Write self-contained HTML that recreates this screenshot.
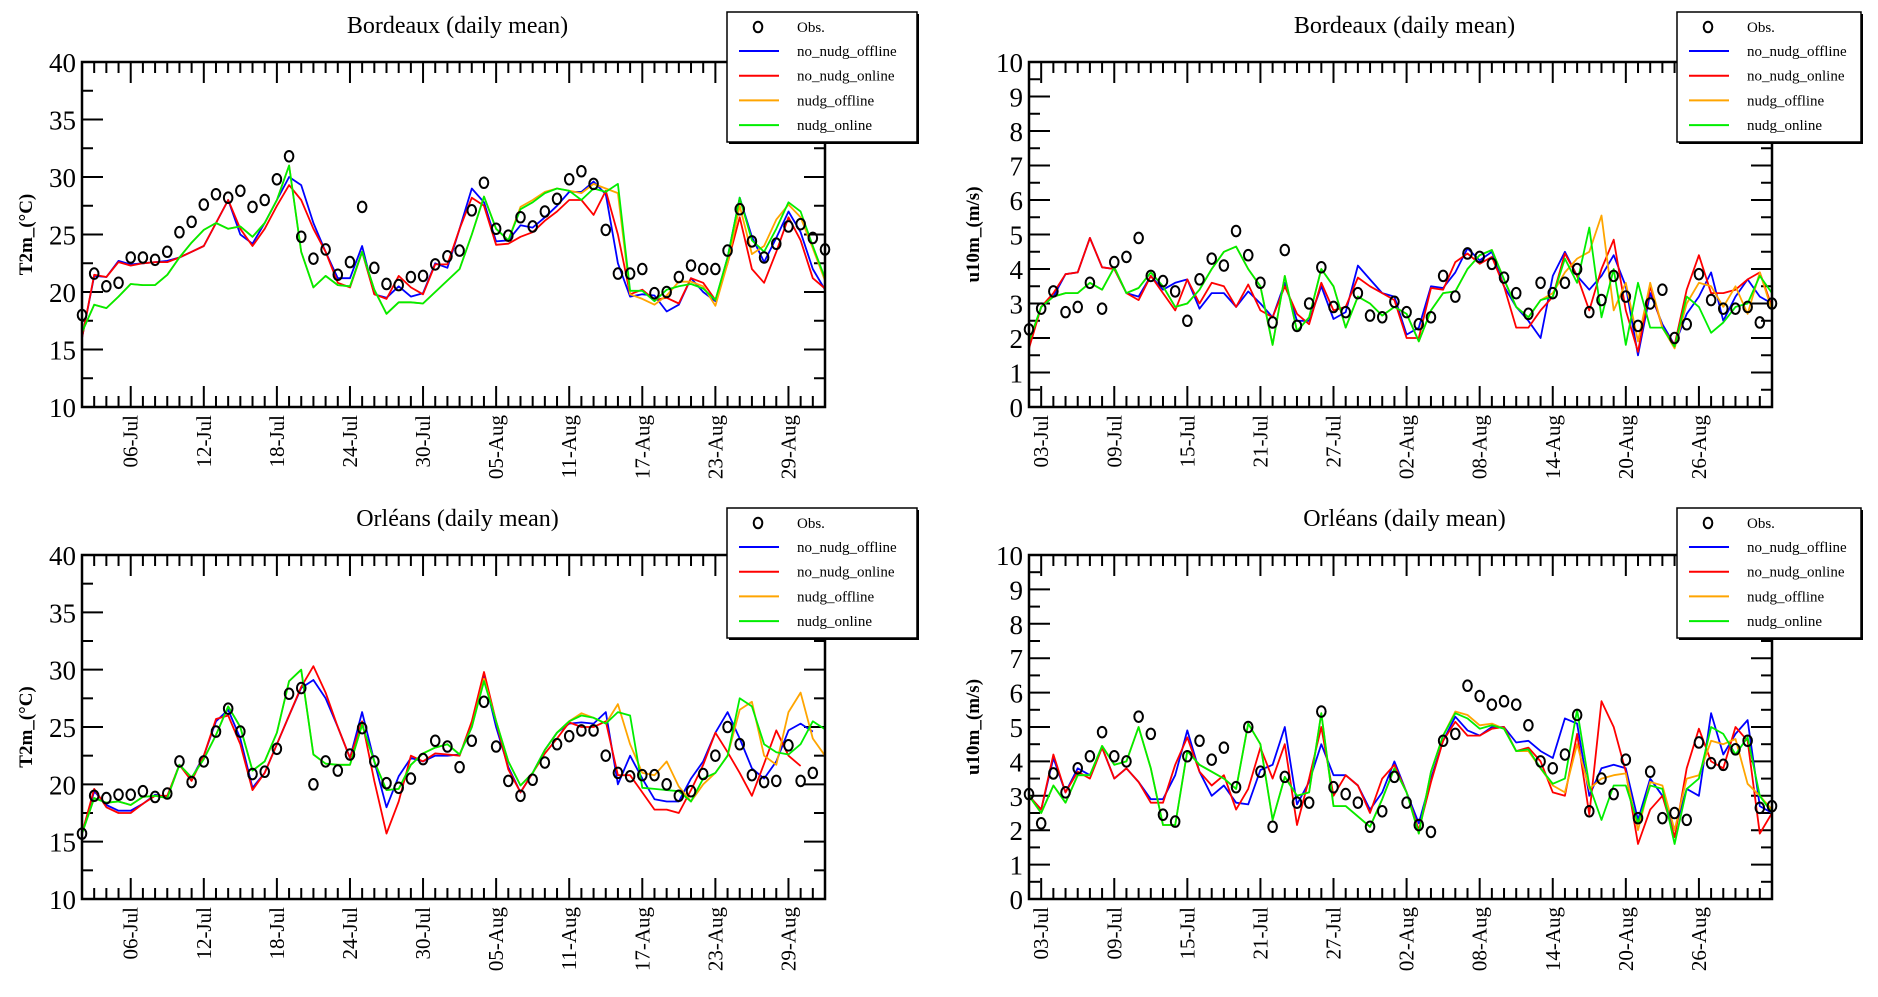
<!DOCTYPE html>
<html><head><meta charset="utf-8"><style>
html,body{margin:0;padding:0;background:#fff;}
svg{display:block;font-family:"Liberation Serif",serif;}
</style></head><body>
<svg id="fig" width="1878" height="997" viewBox="0 0 1878 997" xmlns="http://www.w3.org/2000/svg"></svg>
<script>
// ---------- Data ----------
const seriesNames = ["no_nudg_offline","no_nudg_online","nudg_offline","nudg_online"];
const seriesColors = ["#0000ff","#ff0000","#ffa500","#00ee00"];
const tickLabelsLeft = ["06-Jul","12-Jul","18-Jul","24-Jul","30-Jul","05-Aug","11-Aug","17-Aug","23-Aug","29-Aug"];
const tickLabelsRight = ["03-Jul","09-Jul","15-Jul","21-Jul","27-Jul","02-Aug","08-Aug","14-Aug","20-Aug","26-Aug"];

// Bordeaux T2m
const bdxT_obs = [18.0,21.6,20.5,20.8,23.0,23.0,22.8,23.5,25.2,26.1,27.6,28.5,28.2,28.8,27.4,28.0,29.8,31.8,24.8,22.9,23.7,21.5,22.6,27.4,22.1,20.7,20.6,21.3,21.4,22.4,23.1,23.6,27.1,29.5,25.5,24.9,26.5,25.7,27.0,28.1,29.8,30.5,29.4,25.4,21.6,21.6,22.0,19.9,20.0,21.3,22.3,22.0,22.0,23.6,27.2,24.4,23.0,24.2,25.7,25.9,24.7,23.7];
const bdxT_blue = [16.0,21.4,21.3,22.7,22.4,22.5,22.6,22.7,23.0,23.5,24.0,26.0,28.0,25.0,24.2,26.0,28.0,30.0,29.3,26.0,23.5,21.2,21.2,24.0,19.8,19.5,20.5,19.6,19.9,22.5,22.1,25.5,29.0,27.8,24.4,24.5,25.8,25.6,26.5,27.5,28.7,28.7,29.6,28.5,22.5,19.6,19.8,19.7,18.3,18.9,21.2,20.0,19.2,23.0,28.2,24.8,22.6,24.7,27.0,25.2,22.0,20.2];
const bdxT_red = [16.0,21.5,21.3,22.6,22.3,22.5,22.6,22.6,23.0,23.5,24.0,26.0,28.0,25.5,24.0,25.5,27.5,29.3,28.0,25.5,23.5,20.8,20.4,23.5,19.8,19.4,21.4,20.4,19.8,22.4,22.4,25.5,28.2,27.5,24.1,24.2,24.8,25.2,26.2,27.0,28.0,28.0,26.7,28.8,25.0,19.8,20.2,19.3,19.5,19.0,21.2,20.8,19.3,22.5,26.5,22.0,20.8,23.5,26.5,24.5,21.2,20.3];
const bdxT_orange = [16.5,18.9,18.6,19.6,20.7,20.6,20.6,21.5,23.0,24.3,25.4,26.0,25.5,25.7,24.8,26.0,28.0,31.0,23.5,20.4,21.4,20.6,20.5,23.5,20.2,18.1,19.1,19.1,19.0,20.0,21.0,22.0,25.0,28.3,25.5,24.5,27.4,28.0,28.7,29.0,28.8,28.6,29.4,29.0,28.6,19.8,19.4,18.9,19.7,20.9,20.9,20.5,18.8,22.5,27.5,23.3,24.0,26.3,27.6,26.5,23.8,21.0];
const bdxT_green = [16.5,18.9,18.6,19.6,20.7,20.6,20.6,21.5,23.0,24.3,25.4,26.0,25.5,25.7,24.8,26.0,28.0,31.0,23.5,20.4,21.4,20.6,20.5,23.5,20.2,18.1,19.1,19.1,19.0,20.0,21.0,22.0,25.0,28.3,25.5,24.5,27.2,27.8,28.6,29.0,28.8,28.0,29.0,28.7,29.4,20.1,20.1,19.2,20.2,20.5,20.7,20.3,19.3,23.0,28.2,24.5,23.5,25.5,27.8,27.0,24.0,21.2];

// Bordeaux u10m
const bdxU_obs = [2.25,2.85,3.35,2.75,2.9,3.6,2.85,4.2,4.35,4.9,3.8,3.65,3.35,2.5,3.7,4.3,4.1,5.1,4.4,3.6,2.45,4.55,2.35,3.0,4.05,2.9,2.75,3.3,2.65,2.6,3.05,2.75,2.4,2.6,3.8,3.2,4.45,4.35,4.15,3.75,3.3,2.7,3.6,3.3,3.6,4.0,2.75,3.1,3.8,3.2,2.35,3.0,3.4,2.0,2.4,3.85,3.1,2.85,2.85,2.9,2.45,3.0];
const bdxU_blue = [1.8,2.9,3.2,3.85,3.9,4.9,4.05,4.0,3.3,3.2,3.8,3.4,3.6,3.7,2.85,3.3,3.3,2.9,3.35,3.0,2.6,3.6,2.5,2.5,3.5,2.55,2.75,4.1,3.7,3.3,3.2,2.1,2.3,3.5,3.45,3.9,4.6,4.25,4.5,3.5,2.9,2.5,2.0,3.8,4.5,3.8,3.4,3.8,4.4,3.5,1.5,3.3,2.4,1.8,2.7,3.2,3.9,2.5,3.2,3.7,3.2,3.0];
const bdxU_red = [1.7,2.9,3.3,3.85,3.9,4.9,4.05,4.0,3.3,3.1,3.8,3.3,2.8,3.7,3.0,3.6,3.5,2.9,3.55,2.8,2.6,3.5,2.7,2.4,3.6,2.8,2.9,3.75,3.5,3.3,3.1,2.0,2.0,3.45,3.4,4.2,4.45,4.15,4.35,3.5,2.3,2.3,2.8,3.2,4.45,3.8,2.8,4.0,4.85,2.8,1.6,3.5,2.3,1.8,3.4,4.4,3.3,3.3,3.4,3.7,3.9,2.9];
const bdxU_orange = [1.9,2.9,3.2,3.3,3.3,3.6,3.4,4.05,3.3,3.45,3.9,3.5,2.9,3.0,3.4,4.0,4.5,4.65,4.0,3.5,1.8,3.8,2.2,2.6,4.0,3.5,2.3,3.2,3.0,2.65,2.9,2.7,1.9,2.8,3.3,3.35,4.0,4.4,4.55,3.7,2.9,2.6,3.1,3.3,3.9,4.3,4.5,5.55,2.8,3.6,1.9,3.6,2.3,1.7,3.0,3.6,3.5,2.9,3.5,2.7,3.9,2.8];
const bdxU_green = [1.9,2.9,3.2,3.3,3.3,3.6,3.4,4.05,3.3,3.45,3.9,3.5,2.9,3.0,3.4,4.0,4.5,4.65,4.0,3.5,1.8,3.8,2.2,2.6,4.0,3.5,2.3,3.2,3.0,2.65,2.9,2.7,1.9,2.8,3.3,3.35,4.0,4.4,4.55,3.7,2.9,2.6,3.1,3.2,4.3,3.6,5.2,2.6,4.0,1.8,3.6,2.3,2.3,1.75,3.2,2.9,2.15,2.45,2.9,3.0,3.8,3.3];

// Orleans T2m
const orlT_obs = [15.7,19.0,18.8,19.1,19.1,19.4,18.9,19.2,22.0,20.2,22.0,24.6,26.6,24.6,20.9,21.1,23.1,27.9,28.4,20.0,22.0,21.2,22.6,24.9,22.0,20.1,19.7,20.5,22.2,23.8,23.3,21.5,23.8,27.2,23.3,20.3,19.0,20.4,21.9,23.5,24.2,24.7,24.7,22.5,21.0,20.7,20.8,20.8,20.0,19.0,19.4,20.9,22.5,25.0,23.5,20.8,20.2,20.3,23.4,20.3,21.0];
const orlT_blue = [15.7,19.4,18.2,17.7,17.7,18.3,19.1,18.9,21.7,20.5,22.5,25.5,26.5,24.0,19.7,21.0,23.5,26.0,28.4,29.1,27.5,25.0,22.3,26.3,22.0,18.0,20.7,22.3,22.0,22.5,22.5,22.6,25.0,29.4,25.0,21.5,19.3,21.0,23.0,24.5,25.3,25.4,25.3,26.3,20.0,22.5,20.5,18.7,18.5,18.5,20.5,22.0,24.5,26.3,24.0,21.4,20.5,22.0,24.7,25.3,24.6];
const orlT_red = [15.7,19.6,18.0,17.5,17.5,18.3,19.0,19.0,21.7,20.3,22.5,25.7,26.0,23.5,19.5,21.0,23.5,26.0,28.5,30.3,28.0,25.0,22.3,25.5,20.3,15.7,18.5,22.5,22.0,22.7,22.6,22.5,25.5,29.8,25.5,21.3,19.3,21.0,22.7,24.0,25.4,25.0,25.0,25.5,20.8,20.8,19.3,17.8,17.8,17.5,19.5,21.7,24.5,22.8,21.0,19.0,21.8,24.7,22.5,21.6];
const orlT_orange = [15.7,18.8,18.4,18.5,18.2,18.9,19.0,18.8,21.7,20.6,22.2,24.3,26.8,25.0,21.2,22.0,24.5,29.0,30.0,22.6,21.8,21.7,21.7,25.2,22.0,19.5,19.6,21.7,22.7,23.2,23.5,22.6,25.0,29.2,25.5,22.0,19.9,21.0,23.0,24.5,25.5,26.2,25.8,25.3,27.0,23.5,21.0,20.8,22.0,19.8,18.5,20.0,21.0,22.5,26.5,27.2,22.5,21.7,26.3,28.0,24.0,22.5];
const orlT_green = [15.7,18.8,18.4,18.5,18.2,18.9,19.0,18.8,21.7,20.6,22.2,24.3,26.8,25.0,21.2,22.0,24.5,29.0,30.0,22.6,21.8,21.7,21.7,25.2,22.0,19.5,19.6,21.7,22.7,23.2,23.5,22.6,25.0,29.0,25.5,22.0,19.9,21.0,23.0,24.5,25.5,26.0,25.8,25.3,26.3,26.0,19.7,19.6,19.5,19.4,18.5,20.5,21.0,22.5,27.5,26.8,23.5,22.8,22.6,23.5,25.5,24.8];

// Orleans u10m
const orlU_obs = [3.05,2.2,3.65,3.1,3.8,4.15,4.85,4.15,4.0,5.3,4.8,2.45,2.25,4.15,4.6,4.05,4.4,3.25,5.0,3.7,2.1,3.55,2.8,2.8,5.45,3.25,3.05,2.8,2.1,2.55,3.55,2.8,2.15,1.95,4.6,4.8,6.2,5.9,5.65,5.75,5.65,5.05,4.0,3.8,4.2,5.35,2.55,3.5,3.05,4.05,2.35,3.7,2.35,2.5,2.3,4.55,3.95,3.9,4.35,4.6,2.65,2.7];
const orlU_blue = [3.0,2.6,4.1,3.1,3.8,3.6,4.4,3.5,3.8,3.4,2.9,2.9,3.6,4.9,3.7,3.0,3.3,2.8,2.75,3.75,3.9,5.0,2.75,3.4,4.5,3.6,3.6,3.3,2.6,3.1,4.0,3.1,2.2,3.5,4.6,5.3,4.9,4.75,5.0,5.0,4.55,4.6,4.3,4.1,5.25,5.1,3.0,3.8,3.9,3.8,2.3,3.5,3.0,2.0,3.2,3.0,5.4,4.2,4.8,5.2,2.7,2.5];
const orlU_red = [3.0,2.6,4.2,3.1,3.7,3.5,4.4,3.5,3.8,3.4,2.8,2.8,3.9,4.7,3.7,3.3,3.6,2.6,3.2,4.4,3.5,4.5,2.15,3.5,5.0,3.0,3.6,3.3,2.5,3.5,3.9,3.1,2.0,3.4,4.6,5.15,4.75,4.75,4.95,5.0,4.3,4.4,4.0,3.1,3.0,4.8,2.45,5.75,5.0,3.7,1.6,2.6,3.0,1.8,3.8,4.95,4.0,3.8,5.0,4.6,1.9,2.5];
const orlU_orange = [3.0,2.5,3.3,2.8,3.6,3.6,4.45,3.9,4.0,5.0,3.8,2.15,2.15,4.3,3.9,3.7,3.5,3.2,5.1,4.5,2.3,3.55,3.0,3.1,5.4,2.7,2.7,2.4,2.1,2.9,3.8,3.1,1.9,3.7,4.75,5.45,5.35,5.05,5.1,4.95,4.3,4.3,3.8,3.3,3.1,4.5,3.2,3.5,3.6,3.65,2.0,3.4,3.3,2.0,3.5,3.6,4.6,4.5,4.65,3.35,3.0,2.6];
const orlU_green = [3.0,2.5,3.3,2.8,3.6,3.6,4.45,3.9,4.0,5.0,3.8,2.15,2.15,4.3,3.9,3.7,3.5,3.2,5.1,4.5,2.3,3.55,3.0,3.1,5.4,2.7,2.7,2.4,2.1,2.9,3.8,3.1,1.9,3.7,4.75,5.4,5.25,4.95,5.05,4.95,4.3,4.35,3.8,3.35,3.5,5.5,3.3,2.3,3.3,3.3,2.2,3.3,3.2,1.6,3.2,3.5,5.0,4.8,4.2,4.7,3.0,2.5];

// ---------- Drawing ----------
const NS = "http://www.w3.org/2000/svg";
const svg = document.getElementById("fig");
function mk(tag, attrs, parent){
  const e = document.createElementNS(NS, tag);
  for (const k in attrs) e.setAttribute(k, attrs[k]);
  (parent||svg).appendChild(e);
  return e;
}

function drawPanel(p){
  const g = mk("g", {});
  
  
  const L=p.x0, R=p.x1, T=p.y0, B=p.y1;
  const nDays = 61;
  const xS = i => L + (R-L)*i/nDays;
  const yS = v => B - (B-T)*(v-p.ymin)/(p.ymax-p.ymin);

  const t = mk("text", {x:(L+R)/2 + 4, y:T-29, "font-size":24, "text-anchor":"middle"}, g);
  t.textContent = p.title;
  
  

  const xt = mk("g", {stroke:"#000","stroke-width":2}, g);
  
  
  for (let i=0;i<=nDays;i++){
    const isMaj = (i - p.firstLabel) % 6 === 0 && i>=p.firstLabel && (i-p.firstLabel)/6 < p.labels.length;
    const len = isMaj ? 21 : 11;
    const x = xS(i);
    mk("line",{x1:x,y1:B,x2:x,y2:B-len},xt);
    mk("line",{x1:x,y1:T,x2:x,y2:T+len},xt);
  }
  p.labels.forEach((lab,k)=>{
    const x = xS(p.firstLabel + 6*k);
    const tx = mk("text",{x:0,y:0,"font-size":21,"text-anchor":"end",transform:`translate(${x+7},${B+8}) rotate(-90)`},g);
    tx.textContent = lab;
    
    
  });

  const yt = mk("g", {stroke:"#000","stroke-width":2}, g);
  
  
  for (let v=p.ymin; v<=p.ymax+1e-9; v+=p.ystep/2){
    const maj = Math.abs(((v-p.ymin)/p.ystep) - Math.round((v-p.ymin)/p.ystep))<1e-6;
    const len = maj?21:11, y=yS(v);
    mk("line",{x1:L,y1:y,x2:L+len,y2:y},yt);
    mk("line",{x1:R,y1:y,x2:R-len,y2:y},yt);
    if (maj){
      const ty = mk("text",{x:L-6,y:y+10,"font-size":27,"text-anchor":"end"},g);
      ty.textContent = String(Math.round(v));
      
      
    }
  }
  const yl = mk("text",{x:0,y:0,"font-size":19,"font-weight":"bold","text-anchor":"middle",transform:`translate(${L-50},${(T+B)/2}) rotate(-90)`},g);
  yl.textContent = p.ylabel;
  
  

  p.series.forEach((arr, si)=>{
    const pts = arr.map((v,i)=>xS(i).toFixed(1)+","+yS(v).toFixed(1)).join(" ");
    const pl = mk("polyline",{points:pts,fill:"none",stroke:seriesColors[si],"stroke-width":1.8,"stroke-linejoin":"round"},g);
    
    
  });
  const og = mk("g",{fill:"none",stroke:"#000","stroke-width":2},g);
  
  
  p.obs.forEach((v,i)=>{
    const c = mk("ellipse",{cx:xS(i),cy:yS(v),rx:4.3,ry:5.3},og);
    
    
  });

  const fr = mk("rect",{x:L,y:T,width:R-L,height:B-T,fill:"none",stroke:"#000","stroke-width":2.5},g);
  
  

  const lg = mk("g",{},g);
  
  
  const lx=p.lx, ly=p.ly, lw=p.lw, lh=130;
  mk("rect",{x:lx+2,y:ly+2,width:lw,height:lh,fill:"#000"},lg);
  mk("rect",{x:lx,y:ly,width:lw,height:lh,fill:"#fff",stroke:"#000","stroke-width":1.5},lg);
  mk("ellipse",{cx:lx+31,cy:ly+15,rx:4.3,ry:5.3,fill:"none",stroke:"#000","stroke-width":2},lg);
  const o = mk("text",{x:lx+70,y:ly+20,"font-size":15},lg);
  o.textContent = "Obs.";
  
  
  seriesNames.forEach((n,si)=>{
    const yy = ly + 39 + si*24.7;
    mk("line",{x1:lx+12,y1:yy,x2:lx+52,y2:yy,stroke:seriesColors[si],"stroke-width":2},lg);
    const tt = mk("text",{x:lx+70,y:yy+5,"font-size":15},lg);
    tt.textContent = n;
    
    
  });
}

drawPanel({name:"bordeaux-t2m-chart",title:"Bordeaux (daily mean)",x0:82,x1:825,y0:62,y1:407,ymin:10,ymax:40,ystep:5,ylabel:"T2m_(°C)",labels:tickLabelsLeft,firstLabel:4,obs:bdxT_obs,series:[bdxT_blue,bdxT_red,bdxT_orange,bdxT_green],lx:727,ly:12,lw:190});
drawPanel({name:"bordeaux-u10m-chart",title:"Bordeaux (daily mean)",x0:1029,x1:1772,y0:62,y1:407,ymin:0,ymax:10,ystep:1,ylabel:"u10m_(m/s)",labels:tickLabelsRight,firstLabel:1,obs:bdxU_obs,series:[bdxU_blue,bdxU_red,bdxU_orange,bdxU_green],lx:1677,ly:12,lw:184});
drawPanel({name:"orleans-t2m-chart",title:"Orléans (daily mean)",x0:82,x1:825,y0:555,y1:899,ymin:10,ymax:40,ystep:5,ylabel:"T2m_(°C)",labels:tickLabelsLeft,firstLabel:4,obs:orlT_obs,series:[orlT_blue,orlT_red,orlT_orange,orlT_green],lx:727,ly:508,lw:190});
drawPanel({name:"orleans-u10m-chart",title:"Orléans (daily mean)",x0:1029,x1:1772,y0:555,y1:899,ymin:0,ymax:10,ystep:1,ylabel:"u10m_(m/s)",labels:tickLabelsRight,firstLabel:1,obs:orlU_obs,series:[orlU_blue,orlU_red,orlU_orange,orlU_green],lx:1677,ly:508,lw:184});
</script>
</body></html>
